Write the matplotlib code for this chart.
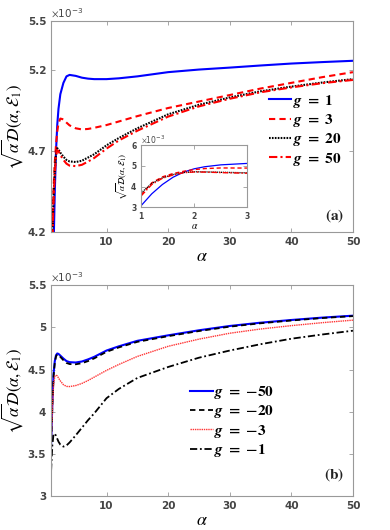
import numpy as np
import matplotlib.pyplot as plt

plt.rcParams['mathtext.fontset'] = 'stix'

# valeurs en unites de 1e-3
alpha = [1.0, 1.2, 1.4, 1.6, 1.8, 2.0, 2.2, 2.5, 3.0, 3.5, 4.0, 5.0, 6.0, 7.0, 8.0,
         10, 12, 15, 20, 25, 30, 35, 40, 45, 50]

# (a) g > 0
g1 = [3.08, 3.65, 4.10, 4.45, 4.70, 4.86, 4.96, 5.05, 5.12, 5.16, 5.169, 5.163, 5.152,
      5.146, 5.143, 5.143, 5.148, 5.16, 5.186, 5.202, 5.214, 5.227, 5.239, 5.248, 5.256]
g3 = [3.60, 4.18, 4.47, 4.63, 4.74, 4.82, 4.87, 4.90, 4.895, 4.875, 4.858, 4.840, 4.833,
      4.836, 4.843, 4.86, 4.882, 4.915, 4.965, 5.005, 5.045, 5.085, 5.12, 5.155, 5.186]
g20 = [3.69, 4.15, 4.42, 4.58, 4.68, 4.717, 4.71, 4.69, 4.665, 4.645, 4.636, 4.632, 4.64,
       4.66, 4.68, 4.735, 4.78, 4.84, 4.926, 4.985, 5.03, 5.068, 5.097, 5.122, 5.143]
g50 = [3.55, 4.10, 4.40, 4.56, 4.67, 4.705, 4.70, 4.675, 4.645, 4.622, 4.61, 4.607, 4.615,
       4.635, 4.657, 4.715, 4.765, 4.825, 4.912, 4.975, 5.022, 5.062, 5.092, 5.118, 5.138]

# (b) g < 0
gm50 = [3.60, 4.10, 4.45, 4.60, 4.67, 4.69, 4.685, 4.665, 4.63, 4.60, 4.587, 4.583, 4.595,
        4.62, 4.65, 4.725, 4.775, 4.84, 4.905, 4.965, 5.016, 5.055, 5.087, 5.115, 5.138]
gm20 = [3.55, 4.06, 4.42, 4.58, 4.655, 4.68, 4.672, 4.65, 4.61, 4.578, 4.565, 4.562, 4.575,
        4.60, 4.632, 4.71, 4.762, 4.828, 4.895, 4.956, 5.008, 5.048, 5.081, 5.11, 5.133]
gm3 = [3.60, 4.00, 4.32, 4.42, 4.433, 4.425, 4.40, 4.365, 4.32, 4.30, 4.298, 4.31, 4.335,
       4.37, 4.41, 4.49, 4.56, 4.655, 4.775, 4.86, 4.93, 4.98, 5.02, 5.055, 5.085]
gm1 = [3.30, 3.60, 3.735, 3.74, 3.715, 3.68, 3.645, 3.61, 3.586, 3.60, 3.635, 3.72, 3.81,
       3.90, 3.98, 4.16, 4.27, 4.40, 4.53, 4.64, 4.725, 4.80, 4.865, 4.915, 4.96]

lab_a = [r'$\mathbfit{g}\ \mathbf{=\ 1}$', r'$\mathbfit{g}\ \mathbf{=\ 3}$',
         r'$\mathbfit{g}\ \mathbf{=\ 20}$', r'$\mathbfit{g}\ \mathbf{=\ 50}$']
lab_b = [r'$\mathbfit{g}\ \mathbf{=\ {-}50}$', r'$\mathbfit{g}\ \mathbf{=\ {-}20}$',
         r'$\mathbfit{g}\ \mathbf{=\ {-}3}$', r'$\mathbfit{g}\ \mathbf{=\ {-}1}$']

ylab = r'$\sqrt{\alpha}\mathcal{D}(\alpha,\mathcal{E}_1)$'
gris = '#444444'


def style_axe(ax, fs=7.5):
    for s in ax.spines.values():
        s.set_color('#999999')
        s.set_linewidth(0.8)
    ax.tick_params(direction='in', length=3, width=0.6, colors='#999999',
                   labelcolor=gris, labelsize=fs, top=True, right=True)
    for t in ax.get_xticklabels() + ax.get_yticklabels():
        t.set_fontweight('bold')


def facteur(ax, fs=7.5):
    ax.text(0.0, 1.005, r'$\times\mathregular{10}^{\mathregular{-3}}$', transform=ax.transAxes,
            fontsize=fs, color=gris, ha='left', va='bottom')


fig = plt.figure(figsize=(3.9, 5.3), dpi=100)
ax1 = fig.add_axes([0.131, 0.562, 0.774, 0.398])
ax2 = fig.add_axes([0.131, 0.064, 0.774, 0.398])
axi = fig.add_axes([0.362, 0.609, 0.272, 0.117])

# panneau (a)
l1, = ax1.plot(alpha, g1, color='#0000ff', lw=1.5)
l2, = ax1.plot(alpha, g3, color='#ff0000', lw=1.5, ls=(0, (3, 2)))
l3, = ax1.plot(alpha, g20, color='black', lw=1.5, ls=(0, (0.8, 0.6)))
l4, = ax1.plot(alpha, g50, color='#ff0000', lw=1.5, ls=(0, (4, 1.5, 1, 1.5)))
ax1.set_xlim(1, 50)
ax1.set_ylim(4.2, 5.5)
ax1.set_xticks([10, 20, 30, 40, 50])
ax1.set_yticks([4.2, 4.7, 5.2, 5.5])
style_axe(ax1)
facteur(ax1)
ax1.set_ylabel(ylab, fontsize=12, labelpad=2)
ax1.set_xlabel(r'$\alpha$', fontsize=13, labelpad=0)
ax1.legend([l1, l2, l3, l4], lab_a, loc='upper left', bbox_to_anchor=(0.70, 0.69),
           frameon=False, fontsize=11, handlelength=1.5, handletextpad=0.1,
           labelspacing=0.15, borderaxespad=0)
ax1.text(0.97, 0.04, r'$\mathbf{(a)}$', transform=ax1.transAxes, fontsize=11,
         ha='right', va='bottom', color='#222222')

# encart
axi.plot(alpha, g1, color='#0000ff', lw=0.9)
axi.plot(alpha, g3, color='#ff0000', lw=1.0, ls=(0, (3, 2)))
axi.plot(alpha, g20, color='black', lw=1.0, ls=(0, (0.8, 0.6)))
axi.plot(alpha, g50, color='#ff0000', lw=1.0, ls=(0, (4, 1.5, 1, 1.5)))
axi.set_xlim(1, 3)
axi.set_ylim(3, 6)
axi.set_xticks([1, 2, 3])
axi.set_yticks([3, 4, 5, 6])
axi.set_facecolor('white')
style_axe(axi, fs=5.5)
facteur(axi, fs=5.5)
axi.set_ylabel(ylab, fontsize=6.5, labelpad=1)
axi.set_xlabel(r'$\alpha$', fontsize=7, labelpad=0)

# panneau (b)
m1, = ax2.plot(alpha, gm50, color='#0000ff', lw=1.5)
m2, = ax2.plot(alpha, gm20, color='black', lw=1.3, ls=(0, (3, 2)))
m3, = ax2.plot(alpha, gm3, color='#ff3333', lw=1.0, ls=(0, (1, 0.6)))
m4, = ax2.plot(alpha, gm1, color='black', lw=1.3, ls=(0, (4, 1.5, 1, 1.5)))
ax2.set_xlim(1, 50)
ax2.set_ylim(3, 5.5)
ax2.set_xticks([10, 20, 30, 40, 50])
ax2.set_yticks([3, 3.5, 4, 4.5, 5, 5.5])
ax2.set_yticklabels(['3', '3.5', '4', '4.5', '5', '5.5'])
style_axe(ax2)
facteur(ax2)
ax2.set_ylabel(ylab, fontsize=12, labelpad=2)
ax2.set_xlabel(r'$\alpha$', fontsize=13, labelpad=0)
ax2.legend([m1, m2, m3, m4], lab_b, loc='upper left', bbox_to_anchor=(0.44, 0.56),
           frameon=False, fontsize=11, handlelength=1.5, handletextpad=0.1,
           labelspacing=0.15, borderaxespad=0)
ax2.text(0.97, 0.06, r'$\mathbf{(b)}$', transform=ax2.transAxes, fontsize=11,
         ha='right', va='bottom', color='#222222')

fig.savefig('out.png', dpi=100)
